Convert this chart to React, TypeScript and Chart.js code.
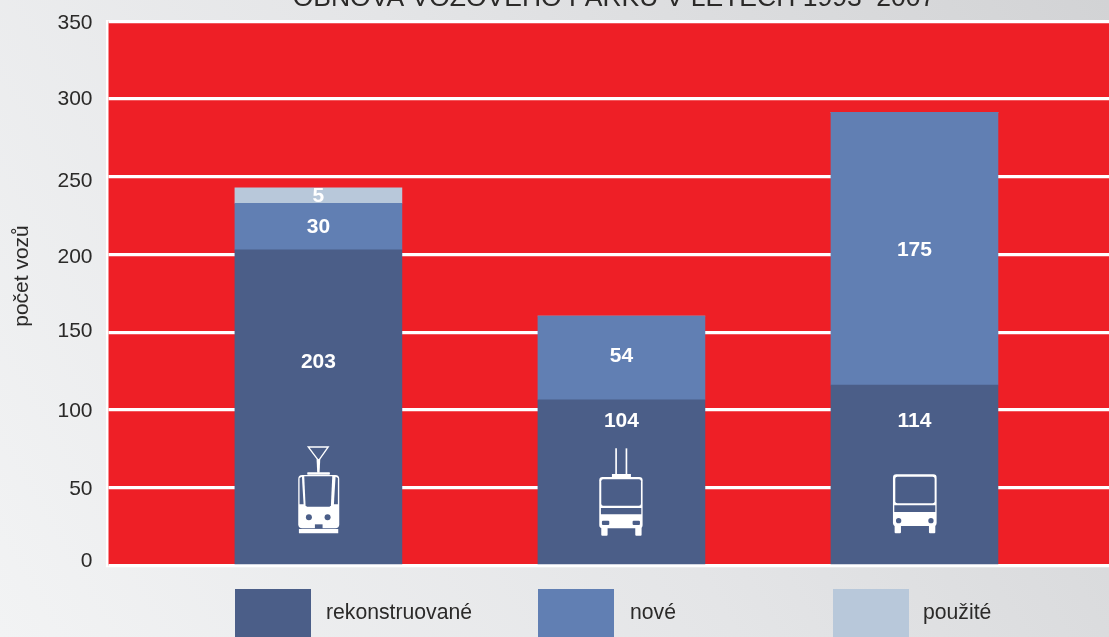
import React, { useEffect, useRef } from "react";
import { Chart, registerables } from "chart.js";

Chart.register(...registerables);

const chartTitle = "OBNOVA VOZOVÉHO PARKU V LETECH 1993–2007";
const yTitle = "počet vozů";
const slots = [1, 2, 2.967];
const seriesNames = ["rekonstruované", "nové", "použité"];
const seriesColors = ["#4b5e88", "#617fb3", "#b8c8da"];
// bar heights
const rekonstruovane = [203, 106.5, 116];
const nove = [30, 54, 175.5];
const pouzite = [10, 0, 0];
// printed numbers
const rekonstruovaneLabels = ["203", "104", "114"];
const noveLabels = ["30", "54", "175"];
const pouziteLabels = ["5", "", ""];
// the dark series' numbers sit above the vehicle icons (value units)
const darkLabelAt = [130.5, 92.5, 92.5];
const noveLabelNudge = [1, -2, 1];
const legendSlots = [235, 538, 833];
// the source's hand-placed tick labels, 0 up to 350 (px)
const tickNudges = [-4.7, 1.5, 1, -1, 3, 4.4, 0, 2];

const FONT = '"Liberation Sans", Arial, sans-serif';
const TEXT = "#2b2a29";
const WHITE = "#ffffff";
const DARK = seriesColors[0];

type C = CanvasRenderingContext2D;
function rr(ctx: C, x0: number, y0: number, x1: number, y1: number, r: number, fill: string) {
  ctx.fillStyle = fill;
  ctx.beginPath();
  ctx.roundRect(x0, y0, x1 - x0, y1 - y0, r);
  ctx.fill();
}
function poly(ctx: C, pts: number[][], fill: string) {
  ctx.fillStyle = fill;
  ctx.beginPath();
  pts.forEach((p, i) => (i ? ctx.lineTo(p[0], p[1]) : ctx.moveTo(p[0], p[1])));
  ctx.closePath();
  ctx.fill();
}
function dot(ctx: C, x: number, y: number, r: number, fill: string) {
  ctx.fillStyle = fill;
  ctx.beginPath();
  ctx.arc(x, y, r, 0, Math.PI * 2);
  ctx.fill();
}
function tram(ctx: C) {
  ctx.translate(-98.5, -135.5);
  ctx.scale(1 / 3, 1 / 3);
  ctx.strokeStyle = WHITE;
  ctx.lineWidth = 4;
  ctx.beginPath();
  ctx.moveTo(265, 51);
  ctx.lineTo(325, 51);
  ctx.lineTo(296, 92);
  ctx.closePath();
  ctx.stroke();
  poly(ctx, [[290, 88], [301, 88], [299, 128], [292, 128]], WHITE);
  rr(ctx, 262, 127, 330, 134, 2, WHITE);
  rr(ctx, 235, 135, 358, 295, 12, WHITE);
  poly(ctx, [[239, 144], [246, 140], [251, 223], [239, 223]], DARK);
  poly(ctx, [[253, 139], [337, 139], [333, 226], [329, 230], [261, 230], [257, 226]], DARK);
  poly(ctx, [[354, 144], [347, 140], [342, 223], [354, 223]], DARK);
  dot(ctx, 267, 262, 9, DARK);
  dot(ctx, 323, 262, 9, DARK);
  rr(ctx, 285, 283, 308, 296, 0, DARK);
  rr(ctx, 237, 297, 355, 310, 0, WHITE);
}
function trolley(ctx: C) {
  ctx.translate(-91.5, -135.5);
  ctx.scale(1 / 3, 1 / 3);
  rr(ctx, 256, 55, 261, 133, 0, WHITE);
  rr(ctx, 287, 55, 292, 133, 0, WHITE);
  rr(ctx, 246, 132, 303, 143, 0, WHITE);
  rr(ctx, 208, 141, 338, 295, 10, WHITE);
  rr(ctx, 214, 148, 333, 227, 6, DARK);
  rr(ctx, 213, 234, 334, 253, 0, DARK);
  rr(ctx, 216, 272, 238, 285, 3, DARK);
  rr(ctx, 308, 272, 330, 285, 3, DARK);
  rr(ctx, 214, 290, 233, 317, 3, WHITE);
  rr(ctx, 316, 290, 335, 317, 3, WHITE);
}
function bus(ctx: C) {
  ctx.translate(-94.5, -135.5);
  ctx.scale(1 / 3, 1 / 3);
  rr(ctx, 219, 133, 350, 288, 10, WHITE);
  rr(ctx, 226, 140, 344, 220, 6, DARK);
  rr(ctx, 223, 226, 346, 246, 0, DARK);
  dot(ctx, 236, 272, 8, DARK);
  dot(ctx, 333, 272, 8, DARK);
  rr(ctx, 224, 283, 243, 310, 3, WHITE);
  rr(ctx, 327, 283, 346, 310, 3, WHITE);
}
const icons = [tram, trolley, bus];

const decorations = {
  id: "decorations",
  beforeDraw(chart: any) {
    const { ctx, width, height, chartArea: a } = chart;
    ctx.save();
    const g = ctx.createLinearGradient(0, height, width, 0);
    g.addColorStop(0, "#f2f3f4");
    g.addColorStop(0.5, "#e4e5e7");
    g.addColorStop(1, "#d2d3d5");
    ctx.fillStyle = g;
    ctx.fillRect(0, 0, width, height);
    ctx.fillStyle = "#ee1f26";
    ctx.fillRect(a.left, a.top, a.right - a.left, a.bottom - a.top);
    ctx.restore();
  },
  afterDraw(chart: any) {
    const { ctx, scales } = chart;
    const y = scales.y;
    const base = y.getPixelForValue(0);
    ctx.save();
    // title, cut by the top edge as in the source
    ctx.fillStyle = TEXT;
    ctx.font = `26.5px ${FONT}`;
    ctx.textAlign = "center";
    ctx.textBaseline = "alphabetic";
    ctx.fillText(chartTitle, 614, 6);
    // y axis title
    ctx.font = `21px ${FONT}`;
    ctx.save();
    ctx.translate(28, 276);
    ctx.rotate(-Math.PI / 2);
    ctx.fillText(yTitle, 0, 0);
    ctx.restore();
    // legend
    ctx.font = `21.2px ${FONT}`;
    ctx.textAlign = "left";
    ctx.textBaseline = "middle";
    seriesNames.forEach((name, i) => {
      ctx.fillStyle = seriesColors[i];
      ctx.fillRect(legendSlots[i], 589, 76, 48);
      ctx.fillStyle = TEXT;
      ctx.fillText(name, legendSlots[i] + (i === 2 ? 90 : i === 0 ? 91 : 92), 613);
    });
    // numbers
    ctx.fillStyle = WHITE;
    ctx.font = `bold 21px ${FONT}`;
    ctx.textAlign = "center";
    const labels = [rekonstruovaneLabels, noveLabels, pouziteLabels];
    labels.forEach((list, d) => {
      const meta = chart.getDatasetMeta(d);
      list.forEach((txt, i) => {
        if (!txt) return;
        const el = meta.data[i];
        const mid = (el.y + el.base) / 2 + (d === 1 ? noveLabelNudge[i] : 1);
        const py = d === 0 ? y.getPixelForValue(darkLabelAt[i]) : mid;
        ctx.fillText(txt, el.x, py);
      });
    });
    // vehicle icons
    const meta0 = chart.getDatasetMeta(0);
    icons.forEach((draw, i) => {
      ctx.save();
      ctx.translate(meta0.data[i].x, base);
      draw(ctx);
      ctx.restore();
    });
    ctx.restore();
  },
};

export default function App() {
  const ref = useRef<HTMLCanvasElement>(null);
  useEffect(() => {
    document.body.style.margin = "0";
    document.body.style.overflow = "hidden";
    const toPoints = (v: number[]) => v.map((val, i) => ({ x: slots[i], y: val }));
    const chart = new Chart(ref.current!, {
      type: "bar",
      data: {
        datasets: [rekonstruovane, nove, pouzite].map((v, i) => ({
          label: seriesNames[i],
          data: toPoints(v),
          backgroundColor: seriesColors[i],
          borderWidth: 0,
          barThickness: 167,
        })),
      },
      options: {
        responsive: false,
        animation: false,
        layout: { padding: { top: 21.4, bottom: 71.5, left: 0, right: 0 } },
        plugins: { legend: { display: false }, title: { display: false }, tooltip: { enabled: false } },
        scales: {
          x: { type: "linear", stacked: true, display: false, offset: false, min: 0.304, max: 3.609 },
          y: {
            stacked: true,
            min: 0,
            max: 350,
            afterFit: (s: any) => {
              s.width = 107.5;
              s.paddingTop = 0;
              s.paddingBottom = 0;
            },
            afterUpdate: (s: any) => {
              if (s.__nudged) return;
              s.__nudged = true;
              const compute = s._computeLabelItems.bind(s);
              s._computeLabelItems = (area: any) =>
                compute(area).map((item: any, i: number) => {
                  item.options.translation[1] += tickNudges[i] ?? 0;
                  return item;
                });
              s._labelItems = null;
            },
            border: { display: true, color: WHITE, width: 2.5 },
            grid: { color: WHITE, lineWidth: 3.3, drawTicks: false },
            ticks: {
              stepSize: 50,
              padding: 15,
              color: TEXT,
              font: { family: FONT, size: 21 },
            },
          },
        },
      } as any,
      plugins: [decorations],
    });
    return () => chart.destroy();
  }, []);
  return <canvas ref={ref} width={1109} height={637} style={{ display: "block" }} />;
}
